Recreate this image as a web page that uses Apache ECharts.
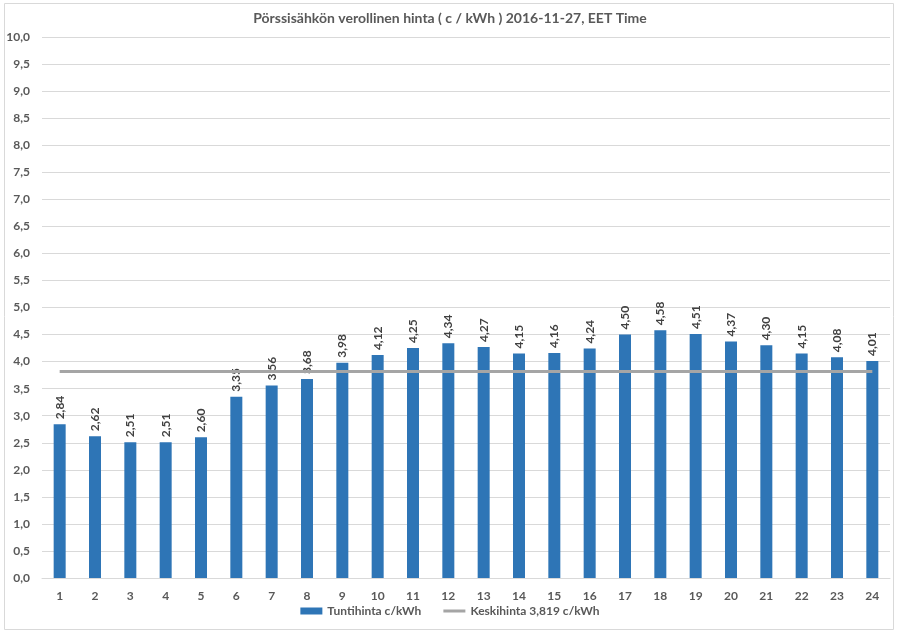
<!DOCTYPE html>
<html><head><meta charset="utf-8">
<script src="https://cdn.jsdelivr.net/npm/echarts@6/dist/echarts.min.js"></script>
<style>html,body{margin:0;padding:0;background:#fff}#c{width:900px;height:636px}</style>
</head><body><div id="c"></div>
<script>
var titleText = 'Pörssisähkön verollinen hinta ( c / kWh ) 2016-11-27, EET Time';
var hours = ['1','2','3','4','5','6','7','8','9','10','11','12','13','14','15','16','17','18','19','20','21','22','23','24'];
var prices = [2.84,2.62,2.51,2.51,2.60,3.35,3.56,3.68,3.98,4.12,4.25,4.34,4.27,4.15,4.16,4.24,4.50,4.58,4.51,4.37,4.30,4.15,4.08,4.01];
var average = 3.819;
var barName = 'Tuntihinta c/kWh';
var lineName = 'Keskihinta 3,819 c/kWh';
var avgData = hours.map(function(){return average;});
var fmt = function(v, d){ return v.toFixed(d).replace('.', ','); };
var FONT = 'Lato';
var chart = echarts.init(document.getElementById('c'), null, {renderer:'canvas'});
chart.setOption({
  animation:false,
  textStyle:{fontFamily:FONT},
  title:{text:titleText, left:'center', top:6, textStyle:{fontFamily:FONT, fontSize:14, fontWeight:'bold', color:'#595959'}},
  graphic:[{type:'rect', shape:{x:4.5,y:3.5,width:889,height:626}, style:{fill:'none', stroke:'#d9d9d9', lineWidth:1}, silent:true}],
  grid:{left:42, right:10, top:37, bottom:58},
  legend:{bottom:14, left:'center', itemGap:22, itemWidth:22, itemHeight:7,
    textStyle:{fontFamily:FONT, fontSize:12, fontWeight:'bold', color:'#595959'},
    data:[{name:barName, icon:'rect'}, {name:lineName, icon:'path://M0,0 L22,0 L22,3 L0,3 Z'}]},
  xAxis:{type:'category', data:hours, boundaryGap:true,
    axisLine:{show:true, lineStyle:{color:'#d9d9d9'}}, axisTick:{show:false},
    axisLabel:{fontFamily:FONT, fontSize:12, fontWeight:'bold', color:'#595959', margin:12}},
  yAxis:{type:'value', min:0, max:10, interval:0.5,
    axisLine:{show:false}, axisTick:{show:false},
    splitLine:{lineStyle:{color:'#d9d9d9', width:1}},
    axisLabel:{fontFamily:FONT, fontSize:12, fontWeight:'bold', color:'#595959', margin:12, formatter:function(v){return fmt(v,1);}}},
  series:[
    {name:barName, type:'bar', data:prices, barWidth:12, itemStyle:{color:'#2E75B6'},
      label:{show:true, position:'top', rotate:90, align:'left', verticalAlign:'middle', distance:5,
        fontFamily:FONT, fontSize:12, fontWeight:'bold', color:'#404040',
        formatter:function(p){return fmt(p.value,2);}}, z:2},
    {name:lineName, type:'line', data:avgData, symbol:'none', lineStyle:{color:'#A5A5A5', width:3}, itemStyle:{color:'#A5A5A5'}, z:3}
  ]
});
</script></body></html>
